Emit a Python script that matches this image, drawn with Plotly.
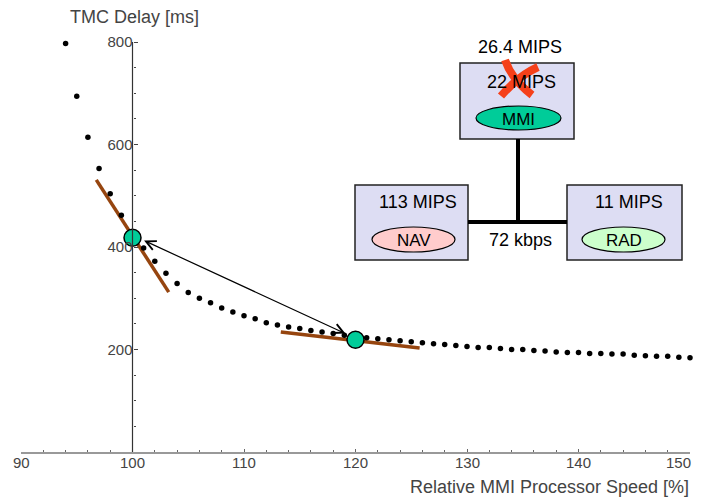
"""TMC delay vs relative MMI processor speed, with the MMI/NAV/RAD inset diagram."""
import plotly.graph_objects as go

# measured curve
speed = list(range(94, 151))
delay = [
    797, 694, 614, 553, 504, 462, 428, 398, 372, 349,
    329, 311, 300, 291, 281, 273, 266, 260, 252, 248,
    244, 241, 237, 234, 231, 228, 226, 223, 221, 219,
    217, 215, 213, 211, 210, 208, 206, 204, 204, 202,
    200, 200, 198, 197, 195, 194, 194, 192, 192, 191,
    191, 189, 188, 187, 187, 185, 184,
]

# operating points (old and new MMI speed)
op_speed = [100, 120]
op_delay = [418, 219]

# tangent segments at the operating points
tan1_speed = [96.75, 103.25]
tan1_delay = [531, 312]
tan2_speed = [113.3, 125.75]
tan2_delay = [234, 203]

# arrow between the operating points
arrow_speed = [100.9, 119.1]
arrow_delay = [414, 231]

x_ticks = [90, 100, 110, 120, 130, 140, 150]
y_ticks = [200, 400, 600, 800]

GREEN = "#00CC99"
BROWN = "#96450F"
FONT = "Liberation Sans, Arial, sans-serif"

W, H = 702, 499
PAGE = 8  # body margin of the html page
L, R, T, B = 13, 20, 4, 55
PW, PH = W - L - R, H - T - B


def px(x):
    """page pixel -> paper x"""
    return (x - PAGE - L) / PW


def py(y):
    """page pixel -> paper y"""
    return (T + PH - (y - PAGE)) / PH


def text(x, y, t, size=18, color="black", **kw):
    fig.add_annotation(x=x, y=y, xref=kw.pop("xref", "paper"), yref="paper", text=t,
                       showarrow=False, xanchor=kw.pop("xanchor", "center"), yanchor="middle",
                       font=dict(size=size, color=color, family=FONT), **kw)


fig = go.Figure()

fig.add_trace(go.Scatter(x=tan1_speed, y=tan1_delay, mode="lines",
                         line=dict(color=BROWN, width=3.5), hoverinfo="skip"))
fig.add_trace(go.Scatter(x=tan2_speed, y=tan2_delay, mode="lines",
                         line=dict(color=BROWN, width=3.5), hoverinfo="skip"))
fig.add_trace(go.Scatter(x=speed, y=delay, mode="markers", cliponaxis=False,
                         marker=dict(color="black", size=5.5)))
fig.add_trace(go.Scatter(x=op_speed, y=op_delay, mode="markers", cliponaxis=False,
                         marker=dict(color=GREEN, size=17,
                                     line=dict(color="black", width=1.5))))

# double-headed arrow
fig.add_annotation(x=arrow_speed[1], y=arrow_delay[1], ax=arrow_speed[0], ay=arrow_delay[0],
                   xref="x", yref="y", axref="x", ayref="y", text="",
                   showarrow=True, arrowhead=5, startarrowhead=5, arrowside="end+start",
                   arrowwidth=1.2, arrowsize=1.6, startarrowsize=1.6, arrowcolor="black")

# y axis line drawn only up to the top tick
fig.add_shape(type="line", x0=100, x1=100, y0=0, y1=y_ticks[-1], xref="x", yref="y",
              line=dict(color="#333333", width=1.2))

# x tick labels sit close under the axis; the last one is pulled inside
for v in x_ticks:
    if v == x_ticks[-1]:
        text(v, py(463), str(v), size=15, color="#444444", xref="x", xanchor="right", xshift=3)
    else:
        text(v, py(463), str(v), size=15, color="#444444", xref="x")

# axis titles
text(px(134), py(17), "TMC Delay [ms]", color="#444444")
text(px(691), py(487), "Relative MMI Processor Speed [%]", color="#444444", xanchor="right")

# inset diagram
BOX_FILL = "#DDDDF3"
boxes = [(460, 63, 574, 139), (355, 185, 468, 260), (567, 185, 682, 260)]
for x0, y0, x1, y1 in boxes:
    fig.add_shape(type="rect", xref="paper", yref="paper",
                  x0=px(x0), x1=px(x1), y0=py(y0), y1=py(y1),
                  fillcolor=BOX_FILL, line=dict(color="#222222", width=1.5))

# bus
fig.add_shape(type="line", xref="paper", yref="paper", x0=px(518), x1=px(518),
              y0=py(139), y1=py(222), line=dict(color="black", width=4))
fig.add_shape(type="line", xref="paper", yref="paper", x0=px(468), x1=px(567),
              y0=py(222), y1=py(222), line=dict(color="black", width=4))

ellipses = [(476, 106, 561, 130, GREEN, "MMI"),
            (372, 227, 455, 252, "#FFCCCC", "NAV"),
            (582, 227, 665, 252, "#CCFFCC", "RAD")]
for x0, y0, x1, y1, col, label in ellipses:
    fig.add_shape(type="circle", xref="paper", yref="paper",
                  x0=px(x0), x1=px(x1), y0=py(y0), y1=py(y1),
                  fillcolor=col, line=dict(color="black", width=1.2))
    text(px((x0 + x1) / 2), py((y0 + y1) / 2 + 1), label, size=17)

labels = [(520, 47, "26.4 MIPS"), (521, 82, "22 MIPS"), (418, 202, "113 MIPS"),
          (629, 202, "11 MIPS"), (520, 240, "72 kbps")]
for x, y, t in labels:
    text(px(x), py(y), t)

# red cross over the old speed
RED = "#F5401A"
fig.add_shape(type="path", xref="paper", yref="paper",
              path=f"M {px(505)},{py(60)} Q {px(512)},{py(80)} {px(532)},{py(95)}",
              line=dict(color=RED, width=8))
fig.add_shape(type="path", xref="paper", yref="paper",
              path=f"M {px(538)},{py(67)} Q {px(518)},{py(76)} {px(501)},{py(96)}",
              line=dict(color=RED, width=8))

fig.update_layout(
    width=W, height=H, margin=dict(l=L, r=R, t=T, b=B, autoexpand=False),
    plot_bgcolor="white", paper_bgcolor="white", showlegend=False,
    font=dict(family=FONT, size=15, color="#444444"),
    xaxis=dict(range=[90, 150], tickvals=x_ticks, ticks="inside", ticklen=3,
               tickcolor="#666666", showgrid=False, zeroline=False, automargin=False,
               showline=True, linecolor="#999999", linewidth=2, showticklabels=False,
               minor=dict(dtick=2, ticks="inside", ticklen=2, tickcolor="#666666")),
    yaxis=dict(range=[0, PH / 0.5125], tickvals=y_ticks, ticks="inside", ticklen=4,
               tickcolor="#444444", showgrid=False, zeroline=False, showline=False,
               anchor="free", position=(100 - 90) / 60, automargin=False,
               minor=dict(dtick=50, ticks="inside", ticklen=2, tickcolor="#444444"),
               tickfont=dict(size=15)),
)

fig.write_html("out.html")
